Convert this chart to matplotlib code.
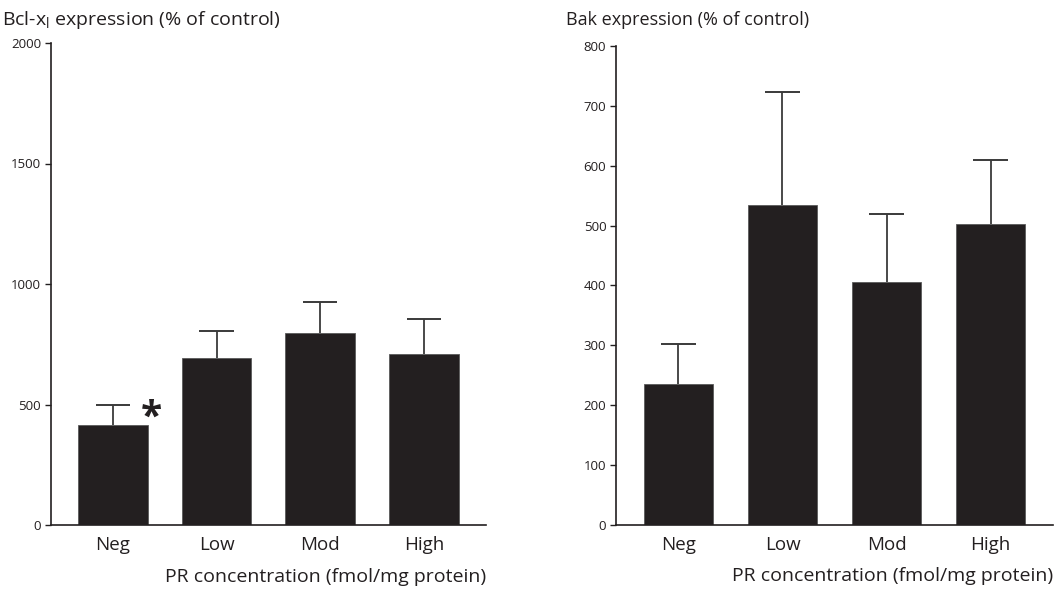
import matplotlib
matplotlib.use("Agg")
import matplotlib.pyplot as plt
import numpy as np

plt.rcParams['font.family'] = ['Open Sans', 'DejaVu Sans']
plt.rcParams['mathtext.default'] = 'regular'

categories = ["Neg", "Low", "Mod", "High"]
bcl_values = [415, 695, 795, 710]
bcl_err = [85, 110, 130, 145]
bak_values = [235, 535, 405, 503]
bak_err = [67, 189, 114, 107]

left_title = "Bcl-x$_{l}$ expression (% of control)"
right_title = "Bak expression (% of control)"
xlabel = "PR concentration (fmol/mg protein)"
bcl_ticks = [0, 500, 1000, 1500, 2000]
bak_ticks = [0, 100, 200, 300, 400, 500, 600, 700, 800]

ink = "#231f20"
errc = "#3a3a3a"

fig = plt.figure(figsize=(10.55, 5.89), dpi=100)
W, H = 1055, 589

def add_axes(x0, x1, y_top, y_bot):
    return fig.add_axes([x0 / W, (H - y_bot) / H, (x1 - x0) / W, (y_bot - y_top) / H])

axL = add_axes(50.7, 486, 43, 525)
axR = add_axes(616, 1053, 46.2, 524.6)

def draw(ax, vals, errs, ticks, ymax):
    x = np.arange(len(categories))
    vals = np.array(vals)
    errs = np.array(errs)
    ax.bar(x, vals, width=0.67, color=ink, edgecolor="#5a5a5a", linewidth=0.6, zorder=2)
    ax.vlines(x, vals, vals + errs, color=errc, linewidth=1.3, zorder=1)
    ax.hlines(vals + errs, x - 0.165, x + 0.165, color=errc, linewidth=1.4, zorder=1)
    ax.set_xlim(-0.6, 3.6)
    ax.set_ylim(0, ymax)
    ax.set_yticks(ticks)
    ax.set_yticklabels([str(t) for t in ticks], fontsize=9.5, color=ink)
    ax.set_xticks(x)
    ax.set_xticklabels(categories, fontsize=13.5, color=ink)
    ax.tick_params(axis='x', length=0, pad=8)
    ax.tick_params(axis='y', length=4, width=1.0, color=ink, pad=3)
    for s in ['top', 'right']:
        ax.spines[s].set_visible(False)
    for s in ['left', 'bottom']:
        ax.spines[s].set_color(ink)
        ax.spines[s].set_linewidth(1.2)
    ax.text(1.0, -0.108, xlabel, transform=ax.transAxes, ha='right', va='center',
            fontsize=14, color=ink)

draw(axL, bcl_values, bcl_err, bcl_ticks, 2000)
draw(axR, bak_values, bak_err, bak_ticks, 800)

fig.text(2 / W, 1 - 20 / H, left_title, ha='left', va='center', fontsize=14, color=ink)
fig.text(566 / W, 1 - 20 / H, right_title, ha='left', va='center', fontsize=13, color=ink)

axL.text(0.37, 445, "*", ha='center', va='center', fontsize=28, fontweight='bold', color=ink)

fig.savefig("out.png", dpi=100)
